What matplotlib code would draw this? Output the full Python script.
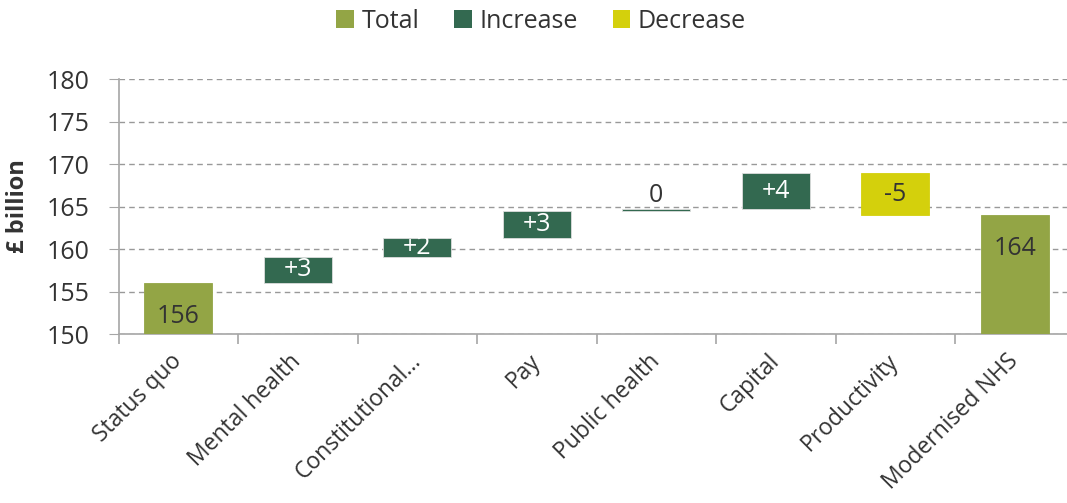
import matplotlib
matplotlib.use("Agg")
import matplotlib.pyplot as plt
from matplotlib.patches import Patch
import numpy as np

plt.rcParams['font.family'] = ['Open Sans', 'DejaVu Sans']

categories = ["Status quo", "Mental health", "Constitutional…", "Pay",
              "Public health", "Capital", "Productivity", "Modernised NHS"]
kinds = ["Total", "Increase", "Increase", "Increase", "Increase", "Increase", "Decrease", "Total"]
# change values (totals are absolute levels)
values = [156.0, 3.1, 2.2, 3.2, 0.2, 4.2, -4.9, 164.0]
labels = ["156", "+3", "+2", "+3", "0", "+4", "-5", "164"]

colors = {"Total": "#93A545", "Increase": "#336950", "Decrease": "#D4D00C"}
text_col = "#333333"

fig = plt.figure(figsize=(10.67, 5.03), dpi=100)
ax = fig.add_axes([118.5/1067, 1-334/503, 956/1067, 255/503])

x = np.arange(len(categories))
running = 0.0
bw = 0.57
for i, (k, v, lab) in enumerate(zip(kinds, values, labels)):
    if k == "Total":
        bottom, height = 0.0, v
        running = v
        top = v
    else:
        start = running
        running = running + v
        bottom = min(start, running)
        height = abs(v)
        top = bottom + height
    ax.bar(x[i], height, bottom=bottom, width=bw, color=colors[k],
           edgecolor="#dddddd" if k == "Increase" else colors[k], linewidth=0.6, zorder=3)
    if k == "Total":
        ax.text(x[i], top - 3.9, lab, ha="center", va="center", fontsize=18, color=text_col, zorder=4)
    elif height < 0.5:
        ax.text(x[i], top + 1.6, lab, ha="center", va="center", fontsize=18, color=text_col, zorder=4)
    else:
        ax.text(x[i], bottom + height/2, lab, ha="center", va="center", fontsize=18,
                color="white" if k == "Increase" else text_col, zorder=4)

ax.set_ylim(150, 180)
ax.set_xlim(-0.5, len(categories) - 0.5)
ax.set_yticks(np.arange(150, 181, 5))
ax.yaxis.grid(True, linestyle=(0, (4, 3)), color="#999999", linewidth=1.0, zorder=0)
ax.set_axisbelow(True)
for s in ["top", "right"]:
    ax.spines[s].set_visible(False)
for s in ["left", "bottom"]:
    ax.spines[s].set_color("#a6a6a6")
    ax.spines[s].set_linewidth(1.2)
ax.tick_params(axis="y", length=7, color="#a6a6a6", pad=14, labelsize=18, labelcolor=text_col)
ax.set_xticks(x)
ax.set_xticklabels(categories, rotation=45, ha="right", va="center", rotation_mode="anchor",
                   fontsize=16.5, color=text_col)
ax.tick_params(axis="x", which="major", length=0, pad=17)
ax.set_xticks(np.arange(-0.5, len(categories), 1), minor=True)
ax.tick_params(axis="x", which="minor", length=7, color="#a6a6a6", width=1.2)

ax.set_ylabel("£ billion", fontsize=17, fontweight="bold", color=text_col, labelpad=12)

handles = [Patch(facecolor=colors[k], edgecolor="none") for k in ["Total", "Increase", "Decrease"]]
fig.legend(handles, ["Total", "Increase", "Decrease"], loc="center",
           bbox_to_anchor=(541/1067, 1-21/503), ncol=3, frameon=False, fontsize=18,
           handlelength=0.7, handleheight=0.7, handletextpad=0.3, columnspacing=1.4,
           labelcolor=text_col)

fig.savefig("out.png", dpi=100)
